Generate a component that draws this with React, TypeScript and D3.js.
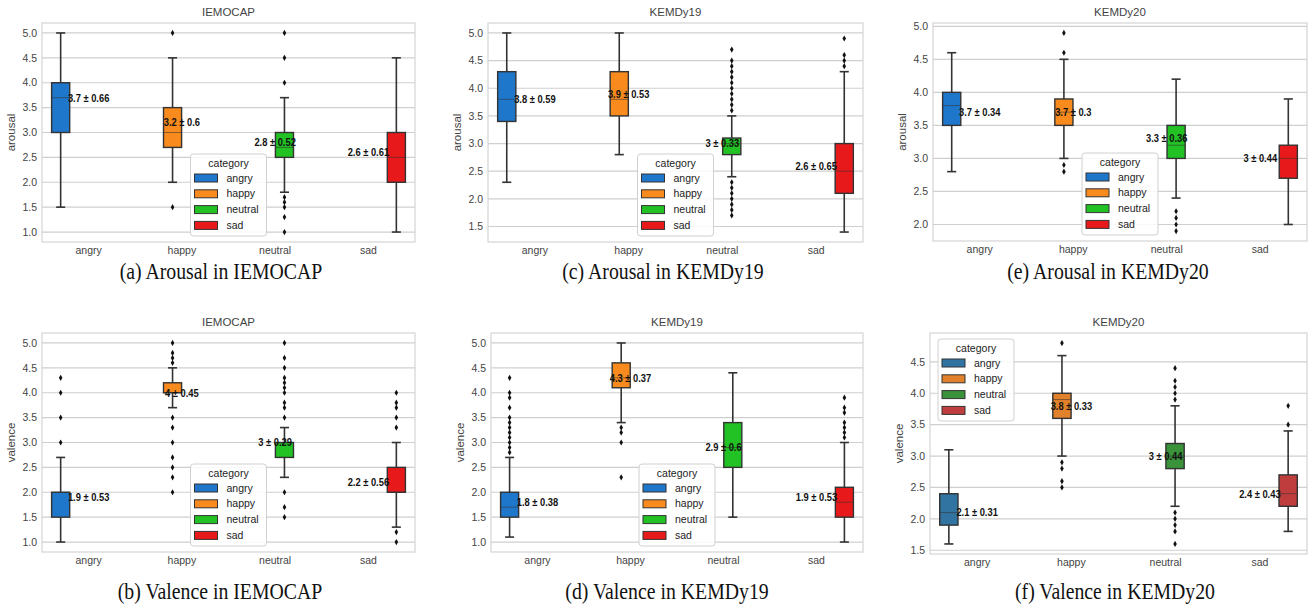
import React, { useEffect, useRef } from "react";
import * as d3 from "d3";

// categories / hue levels
const categories = ["angry", "happy", "neutral", "sad"];

// box stats per category: [lowWhisker, q1, median, q3, highWhisker]
const arousalIemocapBoxes = [[1.5, 3.0, 3.7, 4.0, 5.0], [2.0, 2.7, 3.0, 3.5, 4.5], [1.8, 2.5, 2.7, 3.0, 3.7], [1.0, 2.0, 2.5, 3.0, 4.5]];
const arousalIemocapFliers = [[], [5.0, 1.5], [5.0, 4.5, 4.0, 1.7, 1.6, 1.5, 1.3, 1.0], []];
const arousalIemocapMeans = [3.7, 3.2, 2.8, 2.6];
const arousalIemocapSds = [0.66, 0.6, 0.52, 0.61];

const arousalKemdy19Boxes = [[2.3, 3.4, 3.8, 4.3, 5.0], [2.8, 3.5, 3.8, 4.3, 5.0], [2.4, 2.8, 3.0, 3.1, 3.5], [1.4, 2.1, 2.5, 3.0, 4.3]];
const arousalKemdy19Fliers = [[], [], [3.6, 3.7, 3.8, 3.9, 4.0, 4.1, 4.2, 4.3, 4.4, 4.5, 4.7, 2.3, 2.2, 2.1, 2.0, 1.9, 1.8, 1.7], [4.4, 4.5, 4.6, 4.9]];
const arousalKemdy19Means = [3.8, 3.9, 3, 2.6];
const arousalKemdy19Sds = [0.59, 0.53, 0.33, 0.65];

const arousalKemdy20Boxes = [[2.8, 3.5, 3.8, 4.0, 4.6], [3.0, 3.5, 3.7, 3.9, 4.5], [2.4, 3.0, 3.2, 3.5, 4.2], [2.0, 2.7, 3.0, 3.2, 3.9]];
const arousalKemdy20Fliers = [[], [4.9, 4.6, 2.9, 2.8], [2.2, 2.1, 2.0, 1.9], []];
const arousalKemdy20Means = [3.7, 3.7, 3.3, 3];
const arousalKemdy20Sds = [0.34, 0.3, 0.36, 0.44];

const valenceIemocapBoxes = [[1.0, 1.5, 2.0, 2.0, 2.7], [3.7, 4.0, 4.0, 4.2, 4.5], [2.3, 2.7, 3.0, 3.0, 3.3], [1.3, 2.0, 2.0, 2.5, 3.0]];
const valenceIemocapFliers = [[4.3, 4.0, 3.5, 3.0], [5.0, 4.8, 4.7, 4.6, 3.5, 3.3, 3.0, 2.7, 2.5, 2.3, 2.0], [5.0, 4.7, 4.5, 4.3, 4.2, 4.1, 4.0, 3.8, 3.7, 3.5, 2.0, 1.7, 1.5], [4.0, 3.8, 3.7, 3.5, 3.3, 1.2, 1.0]];
const valenceIemocapMeans = [1.9, 4, 3, 2.2];
const valenceIemocapSds = [0.53, 0.45, 0.29, 0.56];

const valenceKemdy19Boxes = [[1.1, 1.5, 1.7, 2.0, 2.7], [3.4, 4.1, 4.3, 4.6, 5.0], [1.5, 2.5, 2.9, 3.4, 4.4], [1.0, 1.5, 1.8, 2.1, 3.0]];
const valenceKemdy19Fliers = [[2.8, 2.9, 3.0, 3.1, 3.2, 3.3, 3.4, 3.5, 3.7, 3.9, 4.0, 4.3], [3.3, 3.2, 3.0, 2.3], [], [3.1, 3.2, 3.3, 3.4, 3.6, 3.7, 3.9]];
const valenceKemdy19Means = [1.8, 4.3, 2.9, 1.9];
const valenceKemdy19Sds = [0.38, 0.37, 0.6, 0.53];

const valenceKemdy20Boxes = [[1.6, 1.9, 2.1, 2.4, 3.1], [3.0, 3.6, 3.9, 4.0, 4.6], [2.2, 2.8, 3.0, 3.2, 3.8], [1.8, 2.2, 2.4, 2.7, 3.4]];
const valenceKemdy20Fliers = [[], [4.8, 2.9, 2.8, 2.6, 2.5], [4.4, 4.2, 4.1, 4.0, 3.9, 2.1, 2.0, 1.9, 1.8, 1.6], [3.8, 3.5]];
const valenceKemdy20Means = [2.1, 3.8, 3, 2.4];
const valenceKemdy20Sds = [0.31, 0.33, 0.44, 0.43];

const brightColors = ["#1f77cc", "#f88a1e", "#22c124", "#e8191b"];
const mutedColors = ["#3274a1", "#e1812c", "#3a923a", "#c03d3e"];

const panels = [
  { title: "IEMOCAP", ylabel: "arousal", caption: "(a) Arousal in IEMOCAP", boxes: arousalIemocapBoxes, fliers: arousalIemocapFliers, means: arousalIemocapMeans, sds: arousalIemocapSds, domain: [0.8, 5.2], ticks: [1, 5], colors: brightColors, legend: "lower", rect: [42, 23, 415, 242], capX: 221, capY: 279 },
  { title: "KEMDy19", ylabel: "arousal", caption: "(c) Arousal in KEMDy19", boxes: arousalKemdy19Boxes, fliers: arousalKemdy19Fliers, means: arousalKemdy19Means, sds: arousalKemdy19Sds, domain: [1.22, 5.18], ticks: [1.5, 5], colors: brightColors, legend: "lower", rect: [488, 23, 863, 242], capX: 663, capY: 279 },
  { title: "KEMDy20", ylabel: "arousal", caption: "(e) Arousal in KEMDy20", boxes: arousalKemdy20Boxes, fliers: arousalKemdy20Fliers, means: arousalKemdy20Means, sds: arousalKemdy20Sds, domain: [1.75, 5.05], ticks: [2, 5], colors: brightColors, legend: "lower", rect: [933, 23, 1307, 241], capX: 1108, capY: 279 },
  { title: "IEMOCAP", ylabel: "valence", caption: "(b) Valence in IEMOCAP", boxes: valenceIemocapBoxes, fliers: valenceIemocapFliers, means: valenceIemocapMeans, sds: valenceIemocapSds, domain: [0.8, 5.2], ticks: [1, 5], colors: brightColors, legend: "lower", rect: [42, 333, 415, 552], capX: 220, capY: 599 },
  { title: "KEMDy19", ylabel: "valence", caption: "(d) Valence in KEMDy19", boxes: valenceKemdy19Boxes, fliers: valenceKemdy19Fliers, means: valenceKemdy19Means, sds: valenceKemdy19Sds, domain: [0.8, 5.2], ticks: [1, 5], colors: brightColors, legend: "lower", rect: [491, 333, 863, 552], capX: 667, capY: 599 },
  { title: "KEMDy20", ylabel: "valence", caption: "(f) Valence in KEMDy20", boxes: valenceKemdy20Boxes, fliers: valenceKemdy20Fliers, means: valenceKemdy20Means, sds: valenceKemdy20Sds, domain: [1.44, 4.96], ticks: [1.5, 4.5], colors: mutedColors, legend: "upper", rect: [930, 333, 1307, 554], capX: 1115, capY: 599 },
];

const App = () => {
  const ref = useRef<SVGSVGElement>(null);

  useEffect(() => {
    const svg = d3.select(ref.current);
    svg.selectAll("*").remove();
    const sans = "Liberation Sans, Arial, sans-serif";

    panels.forEach((p) => {
      const [left, top, right, bottom] = p.rect;
      const x = d3.scaleLinear().domain([-0.5, 3.5]).range([left, right]);
      const y = d3.scaleLinear().domain(p.domain).range([bottom, top]);
      const g = svg.append("g");
      const tickVals = d3.range(p.ticks[0], p.ticks[1] + 0.01, 0.5);

      // grid
      g.selectAll(".grid")
        .data(tickVals)
        .enter()
        .append("line")
        .attr("x1", left)
        .attr("x2", right)
        .attr("y1", (d) => y(d))
        .attr("y2", (d) => y(d))
        .attr("stroke", "#cfcfcf")
        .attr("stroke-width", 1.2);

      g.append("rect")
        .attr("x", left)
        .attr("y", top)
        .attr("width", right - left)
        .attr("height", bottom - top)
        .attr("fill", "none")
        .attr("stroke", "#d4d4d4")
        .attr("stroke-width", 1.2);

      // y ticks
      g.selectAll(".yt")
        .data(tickVals)
        .enter()
        .append("text")
        .attr("x", left - 5)
        .attr("y", (d) => y(d))
        .attr("dy", "0.35em")
        .attr("text-anchor", "end")
        .attr("font-family", sans)
        .attr("font-size", 10.5)
        .attr("fill", "#444")
        .text((d) => d3.format(".1f")(d));

      // x ticks
      g.selectAll(".xt")
        .data(categories)
        .enter()
        .append("text")
        .attr("x", (d, i) => x(i))
        .attr("y", bottom + 12)
        .attr("text-anchor", "middle")
        .attr("font-family", sans)
        .attr("font-size", 10.5)
        .attr("fill", "#444")
        .text((d) => d);

      g.append("text")
        .attr("x", (left + right) / 2)
        .attr("y", top - 7)
        .attr("text-anchor", "middle")
        .attr("font-family", sans)
        .attr("font-size", 11.5)
        .attr("fill", "#444")
        .text(p.title);

      g.append("text")
        .attr("transform", "translate(" + (left - 27) + "," + (top + bottom) / 2 + ") rotate(-90)")
        .attr("text-anchor", "middle")
        .attr("font-family", sans)
        .attr("font-size", 11.5)
        .attr("fill", "#444")
        .text(p.ylabel);

      const slot = 0.2;
      const bw = x(slot * 0.97) - x(0);

      categories.forEach((c, i) => {
        const s = p.boxes[i];
        const cx = x(i + (i - 1.5) * slot);
        const col = p.colors[i];
        const edge = "#333";
        // whiskers
        g.append("line").attr("x1", cx).attr("x2", cx).attr("y1", y(s[0])).attr("y2", y(s[1])).attr("stroke", edge).attr("stroke-width", 1.6);
        g.append("line").attr("x1", cx).attr("x2", cx).attr("y1", y(s[3])).attr("y2", y(s[4])).attr("stroke", edge).attr("stroke-width", 1.6);
        [s[0], s[4]].forEach((v) => {
          g.append("line")
            .attr("x1", cx - bw / 4)
            .attr("x2", cx + bw / 4)
            .attr("y1", y(v))
            .attr("y2", y(v))
            .attr("stroke", edge)
            .attr("stroke-width", 1.6);
        });
        g.append("rect")
          .attr("x", cx - bw / 2)
          .attr("y", y(s[3]))
          .attr("width", bw)
          .attr("height", Math.max(y(s[1]) - y(s[3]), 0.5))
          .attr("fill", col)
          .attr("stroke", edge)
          .attr("stroke-width", 1.4);
        g.append("line")
          .attr("x1", cx - bw / 2)
          .attr("x2", cx + bw / 2)
          .attr("y1", y(s[2]))
          .attr("y2", y(s[2]))
          .attr("stroke", edge)
          .attr("stroke-opacity", 0.55)
          .attr("stroke-width", 1);
        // fliers
        g.selectAll(".fl" + i)
          .data(p.fliers[i])
          .enter()
          .append("path")
          .attr("d", d3.symbol().type(d3.symbolDiamond).size(11)())
          .attr("transform", (d) => "translate(" + cx + "," + y(d) + ")")
          .attr("fill", "#111");
        // mean +/- sd label
        g.append("text")
          .attr("transform", "translate(" + x(i) + "," + y(p.means[i]) + ") scale(0.85,1)")
          .attr("dy", "0.35em")
          .attr("text-anchor", "middle")
          .attr("font-family", sans)
          .attr("font-weight", "bold")
          .attr("font-size", 11)
          .attr("fill", "#111")
          .text(p.means[i] + " \u00b1 " + p.sds[i]);
      });

      // legend
      const lw = 76, lh = 82;
      const lx = p.legend === "lower" ? (left + right) / 2 - lw / 2 : left + 8;
      const ly = p.legend === "lower" ? bottom - 6 - lh : top + 6;
      const lg = g.append("g").attr("transform", "translate(" + lx + "," + ly + ")");
      lg.append("rect")
        .attr("width", lw)
        .attr("height", lh)
        .attr("rx", 3)
        .attr("fill", "white")
        .attr("fill-opacity", 0.85)
        .attr("stroke", "#d0d0d0");
      lg.append("text")
        .attr("x", lw / 2)
        .attr("y", 13)
        .attr("text-anchor", "middle")
        .attr("font-family", sans)
        .attr("font-size", 10.5)
        .attr("fill", "#222")
        .text("category");
      categories.forEach((c, i) => {
        lg.append("rect")
          .attr("x", 4)
          .attr("y", 20 + i * 15.8)
          .attr("width", 23)
          .attr("height", 8)
          .attr("fill", p.colors[i])
          .attr("stroke", "#333")
          .attr("stroke-width", 1);
        lg.append("text")
          .attr("x", 36)
          .attr("y", 24 + i * 15.8)
          .attr("dy", "0.35em")
          .attr("font-family", sans)
          .attr("font-size", 10.5)
          .attr("fill", "#222")
          .text(c);
      });

      svg.append("text")
        .attr("transform", "translate(" + p.capX + "," + p.capY + ") scale(0.86,1)")
        .attr("text-anchor", "middle")
        .attr("font-family", "Liberation Serif, Times New Roman, serif")
        .attr("font-size", 23)
        .attr("fill", "#111")
        .text(p.caption);
    });
  }, []);

  return (
    <svg
      ref={ref}
      width={1313}
      height={609}
      style={{ position: "absolute", left: 0, top: 0, background: "white" }}
    />
  );
};

export default App;
